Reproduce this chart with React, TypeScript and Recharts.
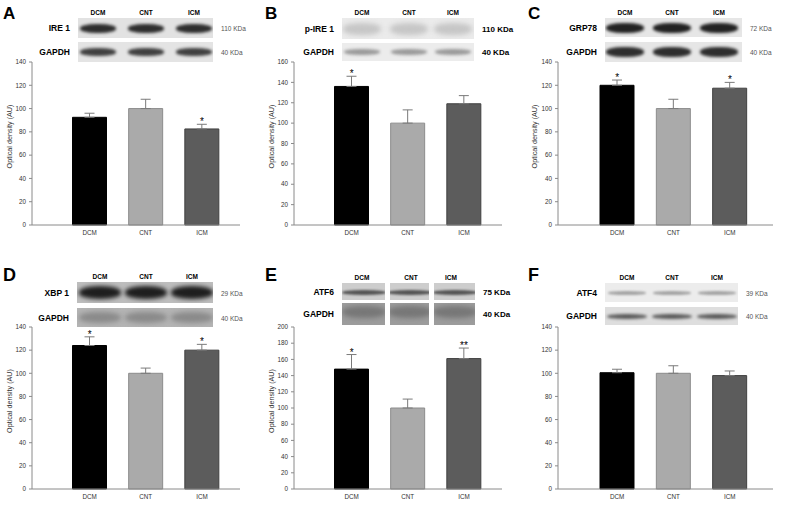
import React from 'react'
import { BarChart, Bar, XAxis, YAxis, ErrorBar, Cell, ReferenceDot } from 'recharts'

const groups = ['DCM', 'CNT', 'ICM']

const ireMeans = [92.5, 100, 82.5]
const ireErr = [3.5, 8, 4]
const ireStars = ['', '', '*']

const pIreMeans = [136, 100, 119]
const pIreErr = [10, 13, 8]
const pIreStars = ['*', '', '']

const grpMeans = [120, 100, 117.5]
const grpErr = [4.5, 8, 5]
const grpStars = ['*', '', '*']

const xbpMeans = [124, 100, 120]
const xbpErr = [7.5, 4.5, 5]
const xbpStars = ['*', '', '*']

const atf6Means = [148, 100, 161]
const atf6Err = [18, 11, 13]
const atf6Stars = ['*', '', '**']

const atf4Means = [100.5, 100, 98]
const atf4Err = [3, 6.5, 4]
const atf4Stars = ['', '', '']

const ticks140 = [0, 20, 40, 60, 80, 100, 120, 140]
const ticks160 = [0, 20, 40, 60, 80, 100, 120, 140, 160]
const ticks200 = [0, 20, 40, 60, 80, 100, 120, 140, 160, 180, 200]

const FONT = '"Liberation Sans", Arial, sans-serif'
const BAR_FILL = ['#000000', '#aaaaaa', '#5c5c5c']
const BAR_STROKE = ['#000000', '#8c8c8c', '#404040']

// blot look per panel (decoration only)
const blotA = {
  x: 78, w: 135, lanes: [98, 146, 194], split: false,
  rows: [
    { top: 18, h: 20, bg: '#e2e2e2', band: '#2e2e2e', bw: 36, bh: 9, blur: 1.6 },
    { top: 42, h: 20, bg: '#e4e4e4', band: '#404040', bw: 36, bh: 8, blur: 1.6 },
  ],
}
const blotB = {
  x: 80, w: 132, lanes: [100, 147, 191], split: false,
  rows: [
    { top: 18, h: 21, bg: '#ebebeb', band: '#c6c6c6', bw: 38, bh: 12, blur: 2.5 },
    { top: 43, h: 18, bg: '#ececec', band: '#9a9a9a', bw: 36, bh: 6, blur: 1.6 },
  ],
}
const blotC = {
  x: 80, w: 137, lanes: [100, 147, 194], split: false,
  rows: [
    { top: 18, h: 19, bg: '#e6e6e6', band: '#222222', bw: 38, bh: 10, blur: 1.6 },
    { top: 42, h: 20, bg: '#e6e6e6', band: '#2e2e2e', bw: 38, bh: 10, blur: 1.6 },
  ],
}
const blotD = {
  x: 77, w: 136, lanes: [100, 146, 192], split: false,
  rows: [
    { top: 32, h: 21, bg: '#bdbdbd', band: '#1e1e1e', bw: 42, bh: 13, blur: 2 },
    { top: 58, h: 19, bg: '#b4b4b4', band: '#8a8a8a', bw: 42, bh: 11, blur: 2.5 },
  ],
}
const blotE = {
  x: 80, w: 133, lanes: [100, 149, 189], split: true,
  boxes: [[80, 123], [128, 167], [172, 213]],
  rows: [
    { top: 33, h: 17, bg: '#cdcdcd', band: '#555555', bw: 44, bh: 5, blur: 1.3, dy: 1 },
    { top: 53, h: 22, bg: '#9c9c9c', band: '#777777', bw: 44, bh: 12, blur: 2.5, dy: -2 },
  ],
}
const blotF = {
  x: 80, w: 133, lanes: [102, 147, 192], split: false,
  rows: [
    { top: 33, h: 19, bg: '#ececec', band: '#a4a4a4', bw: 38, bh: 4, blur: 1.2 },
    { top: 57, h: 18, bg: '#dedede', band: '#5a5a5a', bw: 40, bh: 5, blur: 1.4 },
  ],
}

const panels = [
  {
    letter: 'A', x: 0, y: 0, row: 0, means: ireMeans, err: ireErr, stars: ireStars, max: 140, ticks: ticks140,
    protein: 'IRE 1', kda1: '110 KDa', kda2: '40 KDa', kdaBold: false, blot: blotA, yLabel: true,
  },
  {
    letter: 'B', x: 262, y: 0, row: 0, means: pIreMeans, err: pIreErr, stars: pIreStars, max: 160, ticks: ticks160,
    protein: 'p-IRE 1', kda1: '110 KDa', kda2: '40 KDa', kdaBold: true, blot: blotB, yLabel: true,
  },
  {
    letter: 'C', x: 525, y: 0, row: 0, means: grpMeans, err: grpErr, stars: grpStars, max: 140, ticks: ticks140,
    protein: 'GRP78', kda1: '72 KDa', kda2: '40 KDa', kdaBold: false, blot: blotC, yLabel: true, right: true,
  },
  {
    letter: 'D', x: 0, y: 250, row: 1, means: xbpMeans, err: xbpErr, stars: xbpStars, max: 140, ticks: ticks140,
    protein: 'XBP 1', kda1: '29 KDa', kda2: '40 KDa', kdaBold: false, blot: blotD, yLabel: true,
  },
  {
    letter: 'E', x: 262, y: 250, row: 1, means: atf6Means, err: atf6Err, stars: atf6Stars, max: 200, ticks: ticks200,
    protein: 'ATF6', kda1: '75 KDa', kda2: '40 KDa', kdaBold: true, blot: blotE, yLabel: true,
  },
  {
    letter: 'F', x: 525, y: 250, row: 1, means: atf4Means, err: atf4Err, stars: atf4Stars, max: 140, ticks: ticks140,
    protein: 'ATF4', kda1: '39 KDa', kda2: '40 KDa', kdaBold: false, blot: blotF, yLabel: false, right: true,
  },
]

function Txt({ x, y, size, bold, color, anchor, children }: any) {
  const tx = anchor === 'end' ? '-100%' : anchor === 'middle' ? '-50%' : '0'
  return (
    <div
      style={{
        position: 'absolute', left: x, top: y, transform: `translate(${tx}, -50%)`,
        fontSize: size, fontWeight: bold ? 'bold' : 'normal', color: color || '#000',
        whiteSpace: 'nowrap', lineHeight: 1, fontFamily: FONT,
      }}
    >
      {children}
    </div>
  )
}

function Band({ left, top, r }: any) {
  return (
    <div
      style={{
        position: 'absolute', left, top: top + (r.dy || 0), width: r.bw, height: r.bh, background: r.band,
        borderRadius: '45%', filter: `blur(${r.blur}px)`,
      }}
    />
  )
}

function Blot({ b }: any) {
  return (
    <>
      {b.rows.map((r: any, ri: number) =>
        b.split ? (
          b.boxes.map(([l, rr]: number[], li: number) => (
            <div
              key={`${ri}-${li}`}
              style={{ position: 'absolute', left: l, top: r.top, width: rr - l, height: r.h, background: r.bg, overflow: 'hidden' }}
            >
              <Band left={(rr - l) / 2 - r.bw / 2} top={r.h / 2 - r.bh / 2} r={r} />
            </div>
          ))
        ) : (
          <div
            key={ri}
            style={{ position: 'absolute', left: b.x, top: r.top, width: b.w, height: r.h, background: r.bg, overflow: 'hidden' }}
          >
            {b.lanes.map((c: number, li: number) => (
              <Band key={li} left={c - b.x - r.bw / 2} top={r.h / 2 - r.bh / 2} r={r} />
            ))}
          </div>
        )
      )}
    </>
  )
}

const StarLabel = (text: string) => (props: any) => {
  const vb = props.viewBox || {}
  const cx = (vb.x || 0) + (vb.width || 0) / 2
  const cy = (vb.y || 0) + (vb.height || 0) / 2
  return (
    <text x={cx} y={cy + 1} textAnchor="middle" fontSize={10} fontFamily={FONT} fill="#000">
      {text}
    </text>
  )
}

function Panel({ p }: any) {
  const data = groups.map((g, i) => ({
    name: g,
    value: p.means[i],
    err: [0, p.err[i]],
    top: p.means[i] + p.err[i],
    star: p.stars[i],
  }))
  const plotTop = p.row === 0 ? 62 : 77
  const height = p.row === 0 ? 245 : 255
  const xh = p.row === 0 ? 20 : 16
  const yw = p.right ? 33 : 32
  const axisEnd = p.right ? 248 : 240
  const padL = p.right ? 31 : 29.5
  const padR = p.right ? 15 : 10
  const b = p.blot
  const r1 = b.rows[0]
  const r2 = b.rows[1]
  const colY = r1.top - 5
  const labelRight = b.x - 8

  return (
    <div style={{ position: 'absolute', left: p.x, top: p.y, width: 265, height: 255 }}>
      <div style={{ position: 'absolute', left: 0, top: 0 }}>
        <BarChart
          width={262}
          height={height}
          data={data}
          barSize={34}
          margin={{ top: plotTop, right: 262 - axisEnd, bottom: 0, left: 0 }}
        >
          <XAxis
            dataKey="name"
            height={xh}
            interval={0}
            padding={{ left: padL, right: padR }}
            axisLine={{ stroke: '#8a8a8a' }}
            tickLine={false}
            tickSize={3}
            tickMargin={3}
            tick={{ fontSize: 6.3, fill: '#333', fontFamily: FONT }}
          />
          <YAxis
            width={yw}
            domain={[0, p.max]}
            ticks={p.ticks}
            interval={0}
            axisLine={{ stroke: '#8a8a8a' }}
            tickLine={{ stroke: '#8a8a8a' }}
            tickSize={3}
            tickMargin={3}
            tick={{ fontSize: 6.3, fill: '#333', fontFamily: FONT }}
            label={
              p.yLabel
                ? {
                    value: 'Optical density (AU)',
                    angle: -90,
                    position: 'insideLeft',
                    offset: 9,
                    dy: -7,
                    style: { textAnchor: 'middle', fontSize: 7.2, fill: '#333', fontFamily: FONT },
                  }
                : undefined
            }
          />
          <Bar dataKey="value" isAnimationActive={false} strokeWidth={1}>
            {data.map((d, i) => (
              <Cell key={d.name} fill={BAR_FILL[i]} stroke={BAR_STROKE[i]} />
            ))}
            <ErrorBar dataKey="err" width={5} stroke="#7a7a7a" strokeWidth={1} isAnimationActive={false} />
          </Bar>
          {data
            .filter((d) => d.star)
            .map((d) => (
              <ReferenceDot
                key={d.name}
                x={d.name}
                y={d.top}
                r={0.5}
                fill="none"
                stroke="none"
                label={StarLabel(d.star)}
              />
            ))}
        </BarChart>
      </div>

      <Txt x={3} y={p.row === 0 ? 12.5 : 25} size={p.row === 0 ? 17 : 18} bold>
        {p.letter}
      </Txt>

      <Blot b={b} />

      {groups.map((g, i) => (
        <Txt key={g} x={b.lanes[i]} y={colY} size={6.5} bold anchor="middle">
          {g}
        </Txt>
      ))}

      <Txt x={labelRight} y={r1.top + r1.h / 2} size={8.5} bold anchor="end">
        {p.protein}
      </Txt>
      <Txt x={labelRight} y={r2.top + r2.h / 2} size={8.5} bold anchor="end">
        GAPDH
      </Txt>
      <Txt
        x={b.x + b.w + 8}
        y={r1.top + r1.h / 2 + 1}
        size={p.kdaBold ? 8 : 6.5}
        bold={p.kdaBold}
        color={p.kdaBold ? '#000' : '#555'}
      >
        {p.kda1}
      </Txt>
      <Txt
        x={b.x + b.w + 8}
        y={r2.top + r2.h / 2 + 1}
        size={p.kdaBold ? 8 : 6.5}
        bold={p.kdaBold}
        color={p.kdaBold ? '#000' : '#555'}
      >
        {p.kda2}
      </Txt>
    </div>
  )
}

export default function App() {
  return (
    <div
      style={{
        position: 'absolute', left: 0, top: 0, width: 790, height: 505,
        background: '#fff', overflow: 'hidden', fontFamily: FONT,
      }}
    >
      {panels.map((p) => (
        <Panel key={p.letter} p={p} />
      ))}
    </div>
  )
}
